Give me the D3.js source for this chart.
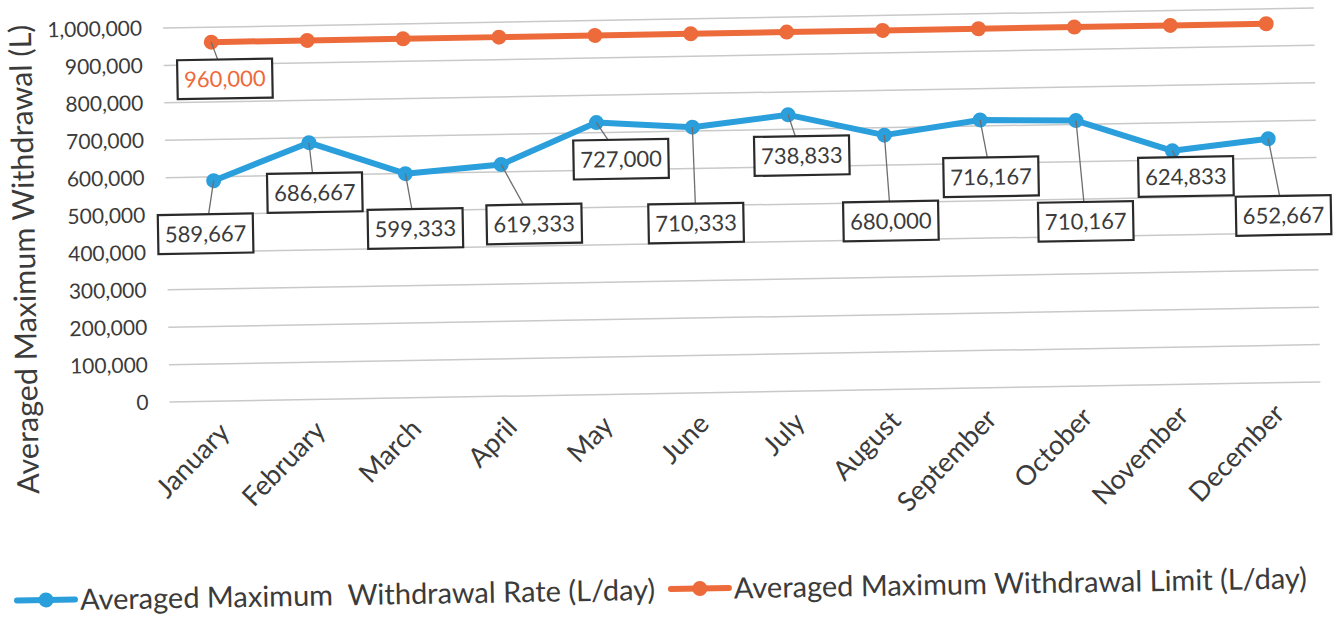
<!DOCTYPE html>
<html>
<head>
<meta charset="utf-8">
<script src="https://cdn.jsdelivr.net/npm/d3@7"></script>
<style>
  html, body { margin: 0; padding: 0; background: #ffffff; }
  svg { display: block; }
  text { font-family: Lato, "Open Sans", sans-serif; fill: #3b3b3b; }
</style>
</head>
<body>
<svg id="chart" width="1342" height="617"></svg>
<script>
// ---- data ----
const months = ["January","February","March","April","May","June","July","August","September","October","November","December"];
const withdrawalRate = [589667, 686667, 599333, 619333, 727000, 710333, 738833, 680000, 716167, 710167, 624833, 652667];
const withdrawalLimit = [960000, 960000, 960000, 960000, 960000, 960000, 960000, 960000, 960000, 960000, 960000, 960000];
const yTicks = [0, 100000, 200000, 300000, 400000, 500000, 600000, 700000, 800000, 900000, 1000000];
const seriesNames = ["Averaged Maximum\u00a0 Withdrawal Rate (L/day)", "Averaged Maximum Withdrawal Limit (L/day)"];
const yTitle = "Averaged Maximum Withdrawal (L)";

// label box offsets (layout only): [dx, dy] of box centre from point
const rateLabelOffsets = [[-9,53],[5,50],[9,55],[32,60],[24,37],[2,96],[13,41],[5,86],[10,57],[8,101],[13,26],[14,77]];
const limitLabelOffsets = [[13,37]];

// ---- layout ----
const blue = "#2a9fdc", orange = "#ed6a3b";
const svg = d3.select("#chart");
const root = svg.append("g").attr("transform", "rotate(-1, 671, 308)");

const x = d3.scalePoint().domain(months).range([168, 1319]).padding(0.5);
const y = d3.scaleLinear().domain([0, 1000000]).range([393.3, 19.2]);

// gridlines
root.append("g").selectAll("line").data(yTicks).join("line")
  .attr("x1", 168).attr("x2", 1319)
  .attr("y1", d => y(d)).attr("y2", d => y(d))
  .attr("stroke", "#c9c9c9").attr("stroke-width", 1.5);

// y axis labels
const yAxis = d3.axisLeft(y).tickValues(yTicks).tickFormat(d3.format(",")).tickSize(0).tickPadding(0);
const yg = root.append("g").attr("transform", "translate(147,0)").call(yAxis);
yg.select(".domain").remove();
yg.selectAll("text").attr("font-size", 21).attr("font-family", "Lato, sans-serif").attr("fill", "#3b3b3b");

// y title
root.append("text")
  .attr("transform", "translate(36,248) rotate(-90)")
  .attr("text-anchor", "middle")
  .attr("font-size", 30.5)
  .text(yTitle);

// x labels
const xAxis = d3.axisBottom(x).tickSize(0).tickPadding(0);
const xg = root.append("g").call(xAxis);
xg.select(".domain").remove();
xg.selectAll(".tick").attr("transform", d => `translate(${x(d) + 13},426)`);
xg.selectAll("text")
  .attr("y", 0).attr("dy", 0)
  .attr("font-size", 27).attr("font-family", "Lato, sans-serif").attr("fill", "#3b3b3b")
  .attr("text-anchor", "end")
  .attr("transform", "rotate(-45)");

// lines
const line = d3.line().x((d, i) => x(months[i])).y(d => y(d));
function drawSeries(values, color) {
  root.append("path").datum(values)
    .attr("d", line).attr("fill", "none")
    .attr("stroke", color).attr("stroke-width", 6).attr("stroke-linejoin", "round").attr("stroke-linecap", "round");
  root.append("g").selectAll("circle").data(values).join("circle")
    .attr("cx", (d, i) => x(months[i])).attr("cy", d => y(d)).attr("r", 7.5)
    .attr("fill", color);
}
drawSeries(withdrawalLimit, orange);
drawSeries(withdrawalRate, blue);

// data labels
const fmt = d3.format(",");
function drawLabels(values, offsets, textColor) {
  const bw = 95, bh = 39;
  offsets.forEach((o, i) => {
    const px = x(months[i]), py = y(values[i]);
    const cx = px + o[0], cy = py + o[1];
    const g = root.append("g");
    g.append("line").attr("x1", px).attr("y1", py).attr("x2", cx).attr("y2", cy)
      .attr("stroke", "#6e6e6e").attr("stroke-width", 1.3);
    g.append("rect").attr("x", cx - bw / 2).attr("y", cy - bh / 2).attr("width", bw).attr("height", bh)
      .attr("fill", "#ffffff").attr("stroke", "#2a2a2a").attr("stroke-width", 2.2);
    g.append("text").attr("x", cx).attr("y", cy).attr("dy", "0.36em")
      .attr("text-anchor", "middle").attr("font-size", 22)
      .style("fill", textColor).text(fmt(values[i]));
  });
}
drawLabels(withdrawalRate, rateLabelOffsets, "#3b3b3b");
drawLabels(withdrawalLimit, limitLabelOffsets, orange);

// legend
const legend = root.append("g").attr("transform", "translate(0,589)");
const legendItems = [
  {name: seriesNames[0], color: blue, x0: 12},
  {name: seriesNames[1], color: orange, x0: 666}
];
legendItems.forEach(it => {
  const g = legend.append("g").attr("transform", `translate(${it.x0},0)`);
  g.append("line").attr("x1", 0).attr("x2", 58).attr("y1", 0).attr("y2", 0)
    .attr("stroke", it.color).attr("stroke-width", 6).attr("stroke-linecap", "round");
  g.append("circle").attr("cx", 29).attr("cy", 0).attr("r", 7.5).attr("fill", it.color);
  g.append("text").attr("x", 63).attr("y", 0).attr("dy", "0.36em")
    .attr("font-size", 29).text(it.name);
});
</script>
</body>
</html>
